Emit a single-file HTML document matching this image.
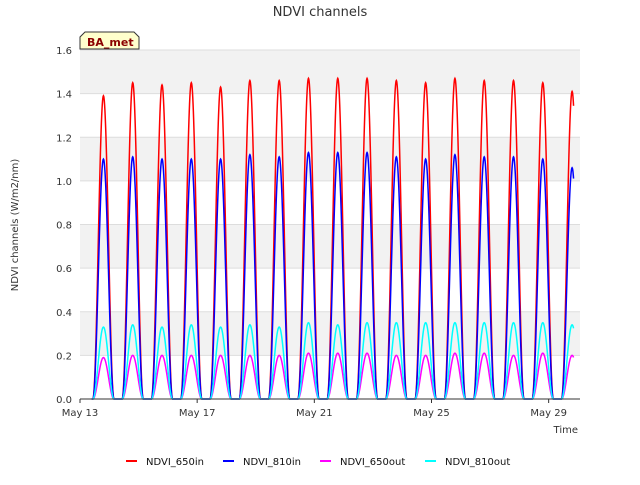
<!DOCTYPE html>
<html><head><meta charset="utf-8"><style>
body{margin:0;background:#fff;font-family:"Liberation Sans","DejaVu Sans",sans-serif}
svg text{font-family:"DejaVu Sans","Liberation Sans",sans-serif}
</style></head><body>
<svg id="chart" width="640" height="480" xmlns="http://www.w3.org/2000/svg">
<g id="bands"></g><g id="grid"></g><g id="series"></g><g id="axes"></g>
<text x="320" y="16" text-anchor="middle" font-size="13" fill="#333">NDVI channels</text>
<text transform="translate(18,225) rotate(-90)" text-anchor="middle" font-size="10" fill="#333">NDVI channels (W/m2/nm)</text>
<text x="578" y="433" text-anchor="end" font-size="10" fill="#333">Time</text>
<g>
<path d="M80,49 L80,37 L85,32 L134,32 L139,37 L139,49 Z" fill="#ffffcc" stroke="#333" stroke-width="1"/>
<text x="87" y="46" font-size="11" font-weight="bold" fill="#8b0000">BA_met</text>
</g>
<g id="legend"></g>
</svg>
<script>
const categories=["May 13","May 17","May 21","May 25","May 29"];
const tickDays=[0,4,8,12,16];
const yTicks=[0,0.2,0.4,0.6,0.8,1.0,1.2,1.4,1.6];
const seriesNames=["NDVI_650in","NDVI_810in","NDVI_650out","NDVI_810out"];
const seriesColors=["#ff0000","#0000ff","#ff00ff","#00ffff"];
const peaks650in=[1.39,1.45,1.44,1.45,1.43,1.46,1.46,1.47,1.47,1.47,1.46,1.45,1.47,1.46,1.46,1.45,1.41];
const peaks810in=[1.10,1.11,1.10,1.10,1.10,1.12,1.11,1.13,1.13,1.13,1.11,1.10,1.12,1.11,1.11,1.10,1.06];
const peaks650out=[0.19,0.20,0.20,0.20,0.20,0.20,0.20,0.21,0.21,0.21,0.20,0.20,0.21,0.21,0.20,0.21,0.20];
const peaks810out=[0.33,0.34,0.33,0.34,0.33,0.34,0.33,0.35,0.34,0.35,0.35,0.35,0.35,0.35,0.35,0.35,0.34];
const allPeaks=[peaks650in,peaks810in,peaks650out,peaks810out];
const startDay=0.4, endDay=16.85;

const X0=80,X1=580,Y0=399,Y1=50,DMAX=17.07;
const xs=d=>X0+(d/DMAX)*(X1-X0);
const ys=v=>Y0-(v/1.6)*(Y0-Y1);
const NS="http://www.w3.org/2000/svg";
function mk(tag,attrs,parent){const e=document.createElementNS(NS,tag);for(const k in attrs)e.setAttribute(k,attrs[k]);parent.appendChild(e);return e;}
const bands=document.getElementById('bands'),grid=document.getElementById('grid'),axes=document.getElementById('axes'),ser=document.getElementById('series'),leg=document.getElementById('legend');
mk('rect',{x:X0,y:Y1,width:X1-X0,height:Y0-Y1,fill:'#fff'},bands);
for(let i=2;i<yTicks.length;i+=2){
  const r=mk('rect',{x:X0,y:ys(yTicks[i]),width:X1-X0,height:ys(yTicks[i-1])-ys(yTicks[i]),fill:'#f2f2f2'},bands);
  
  
}
yTicks.forEach(v=>{
  const l=mk('line',{x1:X0,x2:X1,y1:ys(v),y2:ys(v),stroke:'#ddd','stroke-width':1},grid);
  
  
  const t=mk('text',{x:X0-8,y:ys(v)+4,'text-anchor':'end','font-size':10,fill:'#333'},axes);
  t.textContent=v.toFixed(1);
  
  
});
tickDays.forEach((d,i)=>{
  const t=mk('text',{x:xs(d),y:416,'text-anchor':'middle','font-size':10,fill:'#333'},axes);
  t.textContent=categories[i];
  
  
  mk('line',{x1:xs(d),x2:xs(d),y1:Y0,y2:Y0+4,stroke:'#333'},axes);
});
mk('line',{x1:X0,x2:X1,y1:Y0,y2:Y0,stroke:'#333'},axes);
const C=0.8,H=0.36;
allPeaks.forEach((pk,si)=>{
  let pts=[];
  for(let t=startDay;t<=endDay+1e-9;t+=0.01){
    const day=Math.round(t-C),ph=t-day-C;
    let v=0;
    if(Math.abs(ph)<H&&day>=0&&day<pk.length)v=pk[day]*Math.pow(Math.cos(Math.PI/2*ph/H),2);
    pts.push(xs(t).toFixed(2)+','+ys(v).toFixed(2));
  }
  const p=mk('polyline',{points:pts.join(' '),fill:'none',stroke:seriesColors[si],'stroke-width':1.5},ser);
  
  
});
const lx=[126,223,320,425];
seriesNames.forEach((n,i)=>{
  const g=mk('g',{},leg);
  
  
  mk('line',{x1:lx[i],x2:lx[i]+11,y1:461,y2:461,stroke:seriesColors[i],'stroke-width':2},g);
  const t=mk('text',{x:lx[i]+20,y:465,'font-size':10,fill:'#111'},g);
  t.textContent=n;
});
</script>
</body></html>
